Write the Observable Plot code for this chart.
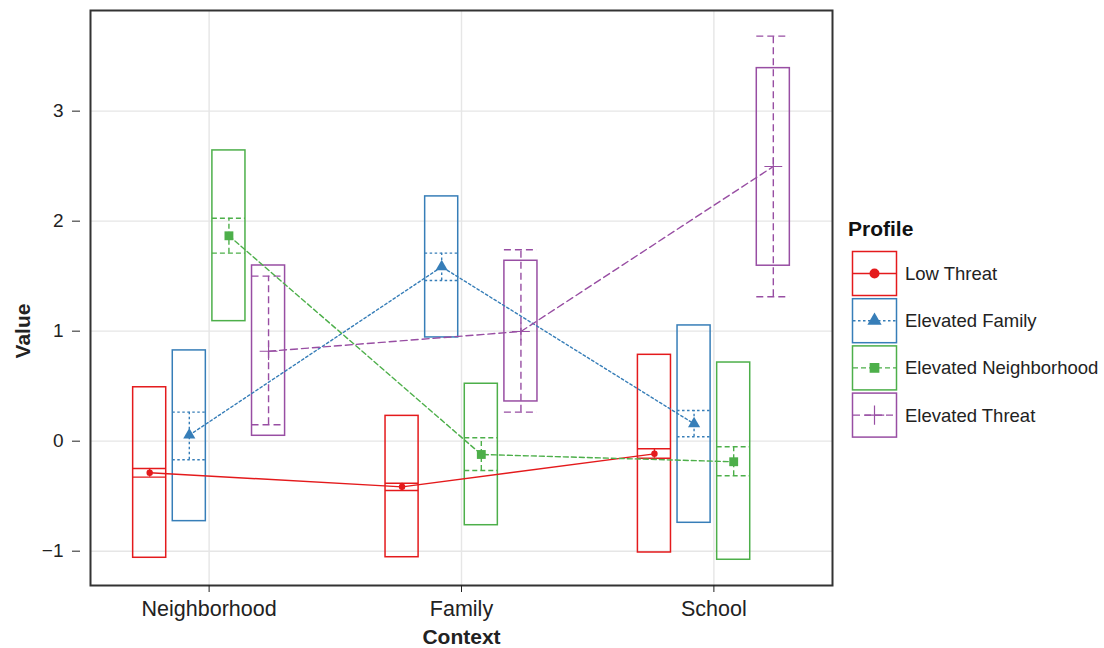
<!DOCTYPE html>
<html><head><meta charset="utf-8">
<script src="https://cdn.jsdelivr.net/npm/d3@7"></script>
<script src="https://cdn.jsdelivr.net/npm/@observablehq/plot@0.6"></script>
<style>
body{margin:0;background:#fff;font-family:"Liberation Sans",Arial,Helvetica,sans-serif;}
#wrap{position:relative;width:1104px;height:648px;overflow:hidden;}
#wrap svg.legend{position:absolute;left:0;top:0;pointer-events:none;}
</style></head><body><div id="wrap"></div>
<script>
// ---- data ----
const contexts = ["Neighborhood", "Family", "School"];
const profiles = ["Low Threat", "Elevated Family", "Elevated Neighborhood", "Elevated Threat"];
const colors = ["#E41A1C", "#377EB8", "#4DAF4A", "#984EA3"];
const dashes = [null, "2.5,2.5", "5,3", "7,4"];
const symbols = ["circle", "triangle", "square", "plus"];
const yTicks = [-1, 0, 1, 2, 3];
// per profile (rows) x context (columns)
const boxHigh = [
  [0.49, 0.23, 0.785],
  [0.825, 2.225, 1.052],
  [2.643, 0.522, 0.715],
  [1.597, 1.64, 3.391]
];
const boxLow = [
  [-1.06, -1.055, -1.012],
  [-0.727, 0.943, -0.742],
  [1.091, -0.764, -1.078],
  [0.049, 0.361, 1.595]
];
const ciHigh = [
  [-0.248, -0.382, -0.069],
  [0.264, 1.709, 0.279],
  [2.027, 0.031, -0.051],
  [1.5, 1.74, 3.682]
];
const ciLow = [
  [-0.327, -0.448, -0.155],
  [-0.169, 1.461, 0.04],
  [1.709, -0.266, -0.315],
  [0.149, 0.264, 1.313]
];
const means = [
  [-0.287, -0.415, -0.115],
  [0.055, 1.585, 0.158],
  [1.867, -0.121, -0.187],
  [0.818, 0.997, 2.497]
];

const dodge = 0.157, hw = 0.0655;
const dotR = [3.2, 4.5, 5, 5.8];

const rows = profiles.map((p, i) => contexts.map((c, j) => ({
  profile: p, context: c,
  pos: j + (i - 1.5) * dodge,
  boxLo: boxLow[i][j], boxHi: boxHigh[i][j],
  ciLo: ciLow[i][j], ciHi: ciHigh[i][j],
  mean: means[i][j]
})));

const marks = [
  Plot.gridY(yTicks, {stroke: "#e6e6e6", strokeOpacity: 1, strokeWidth: 1.4}),
  Plot.gridX([0, 1, 2], {stroke: "#e6e6e6", strokeOpacity: 1, strokeWidth: 1.4})
];
profiles.forEach((p, i) => {
  const d = rows[i], col = colors[i], da = dashes[i];
  marks.push(
    Plot.rect(d, {x1: r => r.pos - hw, x2: r => r.pos + hw, y1: "boxLo", y2: "boxHi", fill: "none", stroke: col, strokeWidth: 1.5}),
    Plot.ruleX(d, {x: "pos", y1: "ciLo", y2: "ciHi", stroke: col, strokeWidth: 1.4, strokeDasharray: da}),
    Plot.ruleY(d, {y: "ciLo", x1: r => r.pos - hw, x2: r => r.pos + hw, stroke: col, strokeWidth: 1.4, strokeDasharray: da}),
    Plot.ruleY(d, {y: "ciHi", x1: r => r.pos - hw, x2: r => r.pos + hw, stroke: col, strokeWidth: 1.4, strokeDasharray: da})
  );
});
profiles.forEach((p, i) => {
  const d = rows[i], col = colors[i], da = dashes[i];
  marks.push(Plot.line(d, {x: "pos", y: "mean", stroke: col, strokeWidth: 1.4, strokeDasharray: da}));
});
profiles.forEach((p, i) => {
  const d = rows[i], col = colors[i];
  const isPlus = symbols[i] === "plus";
  marks.push(Plot.dot(d, {x: "pos", y: "mean", symbol: symbols[i], r: dotR[i],
    fill: isPlus ? "none" : col, stroke: isPlus ? col : "none", strokeWidth: 1.1}));
});
const fmt = v => (v < 0 ? "\u2212" + Math.abs(v) : String(v));
marks.push(
  Plot.frame({stroke: "#333", strokeWidth: 2}),
  Plot.axisY({ticks: yTicks, tickFormat: fmt, tickSize: 8, tickPadding: 9, dx: -10, fontSize: 19, label: null}),
  Plot.axisX({ticks: [0, 1, 2], tickFormat: i => contexts[i], tickSize: 7, tickPadding: 8, fontSize: 21.5, label: null}),
  Plot.text(["Value"], {text: d => d, frameAnchor: "left", textAnchor: "middle", lineAnchor: "middle", dx: -67, dy: 33, rotate: -90, fontWeight: "bold", fontSize: 21}),
  Plot.text(["Context"], {text: d => d, frameAnchor: "bottom", textAnchor: "middle", dy: 58, fontWeight: "bold", fontSize: 21})
);

const chart = Plot.plot({
  width: 1104, height: 648,
  marginLeft: 90, marginRight: 272, marginTop: 10, marginBottom: 63,
  x: {type: "linear", domain: [-0.47, 2.47], axis: null},
  y: {domain: [-1.312, 3.915], axis: null},
  style: {fontFamily: "'Liberation Sans', Arial, Helvetica, sans-serif", color: "#222", background: "#fff"},
  marks
});
const wrap = document.getElementById("wrap");
wrap.appendChild(chart);

// ---- legend ----
const lg = d3.select(wrap).append("svg").attr("class", "legend")
  .attr("width", 1104).attr("height", 648)
  .style("font-family", "'Liberation Sans', Arial, Helvetica, sans-serif");
lg.append("text").attr("x", 848).attr("y", 235.5)
  .attr("font-weight", "bold").attr("font-size", 21).attr("fill", "#111").text("Profile");
const legR = [5, 5.3, 5.5, 6.3];
profiles.forEach((p, i) => {
  const y0 = 251.5 + i * 47.2, cx = 874.5, cy = y0 + 22;
  const g = lg.append("g");
  g.append("rect").attr("x", 852.5).attr("y", y0).attr("width", 44).attr("height", 44)
    .attr("fill", "#fff").attr("stroke", colors[i]).attr("stroke-width", 1.5);
  g.append("line").attr("x1", 853).attr("x2", 896).attr("y1", cy).attr("y2", cy)
    .attr("stroke", colors[i]).attr("stroke-width", 1.4)
    .attr("stroke-dasharray", dashes[i]);
  const symMap = {circle: d3.symbolCircle, triangle: d3.symbolTriangle, square: d3.symbolSquare, plus: d3.symbolPlus};
  const isPlus = symbols[i] === "plus";
  g.append("path").attr("transform", `translate(${cx},${cy})`)
    .attr("d", d3.symbol(symMap[symbols[i]], legR[i] * legR[i] * Math.PI)())
    .attr("fill", isPlus ? "none" : colors[i])
    .attr("stroke", isPlus ? colors[i] : "none").attr("stroke-width", 1.2);
  g.append("text").attr("x", 905).attr("y", cy).attr("dy", "0.35em")
    .attr("font-size", 18.5).attr("fill", "#222").text(p);
});
</script>
</body></html>
